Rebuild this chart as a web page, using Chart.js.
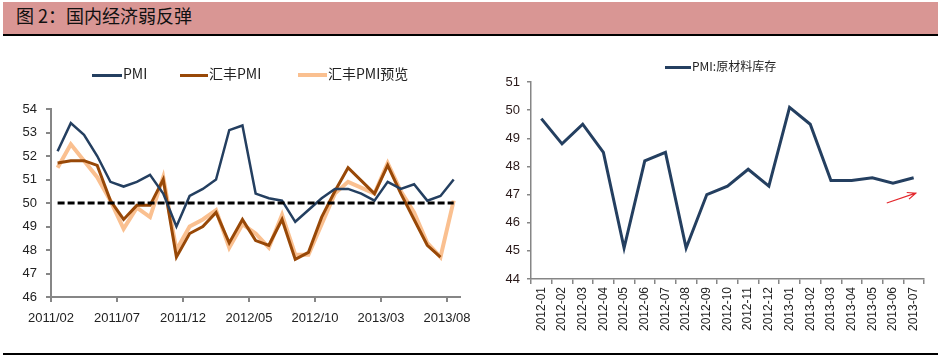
<!DOCTYPE html>
<html>
<head>
<meta charset="utf-8">
<script src="https://cdn.jsdelivr.net/npm/chart.js@4.4.0/dist/chart.umd.min.js"></script>
<style>
  body { margin: 0; width: 938px; height: 359px; position: relative; background: #fff; overflow: hidden; }
  .hdr { position: absolute; left: 3px; top: 2px; width: 935px; height: 32px; background: #d99694; border-bottom: 2px solid #000; }
  .hdr span { position: absolute; left: 13px; top: 0; line-height: 32px; font: 18px "Noto Sans CJK SC", sans-serif; color: #111; }
  .foot { position: absolute; left: 3px; top: 353px; width: 935px; height: 2px; background: #000; }
  .box { position: absolute; }
  .lg { position: absolute; font-family: "Noto Sans CJK SC", sans-serif; color: #222; white-space: nowrap; }
  .lg i { display: inline-block; vertical-align: middle; height: 3px; margin-right: 1px; }
</style>
</head>
<body>
<div class="hdr"><span>图 2：国内经济弱反弹</span></div>

<div class="box" style="left:0; top:40px;"><canvas id="left" width="480" height="314"></canvas></div>
<div class="box" style="left:485px; top:40px;"><canvas id="right" width="453" height="314"></canvas></div>

<div class="lg" style="left:92px; top:63px; font-size:14px;"><i style="width:30px;background:#243f60"></i>PMI</div>
<div class="lg" style="left:180px; top:63px; font-size:14px;"><i style="width:28px;background:#984807"></i>汇丰PMI</div>
<div class="lg" style="left:298px; top:63px; font-size:14px;"><i style="width:29px;background:#fac090;height:4px"></i>汇丰PMI预览</div>
<div class="lg" style="left:665px; top:57px; font-size:12px;"><i style="width:26px;background:#243f60"></i>PMI:原材料库存</div>

<div class="foot"></div>

<script>
// left chart: months 2011/02 - 2013/08
var months = ['2011/02','2011/03','2011/04','2011/05','2011/06','2011/07','2011/08','2011/09','2011/10','2011/11','2011/12',
              '2012/01','2012/02','2012/03','2012/04','2012/05','2012/06','2012/07','2012/08','2012/09','2012/10','2012/11','2012/12',
              '2013/01','2013/02','2013/03','2013/04','2013/05','2013/06','2013/07','2013/08'];
var pmi   = [52.2,53.4,52.9,52.0,50.9,50.7,50.9,51.2,50.4,49.0,50.3,
             50.6,51.0,53.1,53.3,50.4,50.2,50.1,49.2,49.7,50.2,50.6,50.6,
             50.4,50.1,50.9,50.6,50.8,50.1,50.3,51.0];
var hsbc  = [51.7,51.8,51.8,51.6,50.1,49.3,49.9,49.9,51.0,47.7,48.7,
             49.0,49.6,48.3,49.3,48.4,48.2,49.3,47.6,47.9,49.4,50.5,51.5,
             null,50.4,51.6,50.4,49.3,48.2,47.7,null];
var flash = [51.5,52.5,51.8,51.1,50.1,48.9,49.8,49.4,51.1,48.0,49.0,
             49.3,49.7,48.1,49.1,48.7,48.1,49.5,47.8,47.8,49.1,50.4,50.9,
             null,50.4,51.7,50.5,49.6,48.3,47.7,50.1];
var refLevel = 50;

// right chart: PMI raw material inventory
var invMonths = ['2012-01','2012-02','2012-03','2012-04','2012-05','2012-06','2012-07','2012-08','2012-09','2012-10',
                 '2012-11','2012-12','2013-01','2013-02','2013-03','2013-04','2013-05','2013-06','2013-07'];
var inventory = [49.7,48.8,49.5,48.5,45.1,48.2,48.5,45.1,47.0,47.3,47.9,47.3,50.1,49.5,47.5,47.5,47.6,47.4,47.6];
var arrowFrom = [16.7, 46.7];
var arrowTo   = [18.1, 47.05];

var axisGrey = '#868686';
var tickFont = { family: 'Liberation Sans', size: 13 };

function toPoints(arr) {
    return arr.map(function (v, i) { return { x: i + 0.5, y: v }; });
}

new Chart(document.getElementById('left'), {
    type: 'line',
    data: {
        datasets: [
            { data: [{ x: 0.5, y: refLevel }, { x: months.length - 0.5, y: refLevel }], borderColor: '#000', borderWidth: 3, borderDash: [7, 3], order: 0 },
            { data: toPoints(pmi), borderColor: '#243f60', borderWidth: 2.5, order: 1 },
            { data: toPoints(hsbc), borderColor: '#984807', borderWidth: 3, spanGaps: true, order: 2 },
            { data: toPoints(flash), borderColor: '#fac090', borderWidth: 4, spanGaps: true, order: 3 }
        ]
    },
    options: {
        responsive: false,
        animation: false,
        layout: { padding: { top: 69, right: 13, bottom: 27, left: 0 } },
        elements: { point: { radius: 0 }, line: { tension: 0 } },
        plugins: { legend: { display: false }, tooltip: { enabled: false } },
        scales: {
            x: {
                type: 'linear', min: 0, max: months.length,
                afterFit: function (s) { s.height = 30; },
                border: { color: axisGrey, width: 2 },
                grid: { drawOnChartArea: false, color: axisGrey, lineWidth: 2, tickLength: 5 },
                ticks: {
                    stepSize: 5, includeBounds: false, maxRotation: 0, padding: 9,
                    color: '#222', font: tickFont,
                    callback: function (v) { return months[v] || ''; }
                }
            },
            y: {
                min: 46, max: 54,
                afterFit: function (s) { s.width = 51; },
                border: { color: axisGrey, width: 2 },
                grid: { drawOnChartArea: false, color: axisGrey, lineWidth: 2, tickLength: 5 },
                ticks: { stepSize: 1, padding: 9, color: '#222', font: tickFont }
            }
        }
    }
});

var arrowPlugin = {
    id: 'arrow',
    afterDatasetsDraw: function (chart) {
        var xs = chart.scales.x, ys = chart.scales.y, ctx = chart.ctx;
        var x1 = xs.getPixelForValue(arrowFrom[0]), y1 = ys.getPixelForValue(arrowFrom[1]);
        var x2 = xs.getPixelForValue(arrowTo[0]), y2 = ys.getPixelForValue(arrowTo[1]);
        var a = Math.atan2(y2 - y1, x2 - x1);
        ctx.save();
        ctx.strokeStyle = '#e3262b';
        ctx.lineWidth = 1.2;
        ctx.beginPath();
        ctx.moveTo(x1, y1);
        ctx.lineTo(x2, y2);
        ctx.moveTo(x2 - 9 * Math.cos(a - 0.4), y2 - 9 * Math.sin(a - 0.4));
        ctx.lineTo(x2, y2);
        ctx.lineTo(x2 - 9 * Math.cos(a + 0.4), y2 - 9 * Math.sin(a + 0.4));
        ctx.stroke();
        ctx.restore();
    }
};

new Chart(document.getElementById('right'), {
    type: 'line',
    data: {
        labels: invMonths,
        datasets: [
            { data: inventory, borderColor: '#243f60', borderWidth: 3 }
        ]
    },
    options: {
        responsive: false,
        animation: false,
        layout: { padding: { top: 42, right: 14, bottom: 0, left: 0 } },
        elements: { point: { radius: 0 }, line: { tension: 0 } },
        plugins: { legend: { display: false }, tooltip: { enabled: false } },
        scales: {
            x: {
                offset: true,
                afterFit: function (s) { s.height = 75; },
                border: { color: axisGrey, width: 1.5 },
                grid: { offset: true, drawOnChartArea: false, color: axisGrey, lineWidth: 1.5, tickLength: 5 },
                ticks: { autoSkip: false, minRotation: 90, maxRotation: 90, padding: 3, color: '#222', font: { family: 'Liberation Sans', size: 12 } }
            },
            y: {
                min: 44, max: 51,
                afterFit: function (s) { s.width = 46; },
                border: { color: axisGrey, width: 1.5 },
                grid: { drawOnChartArea: false, color: axisGrey, lineWidth: 1.5, tickLength: 4 },
                ticks: { stepSize: 1, padding: 7, color: '#2a1a1a', font: tickFont }
            }
        }
    },
    plugins: [arrowPlugin]
});
</script>
</body>
</html>
